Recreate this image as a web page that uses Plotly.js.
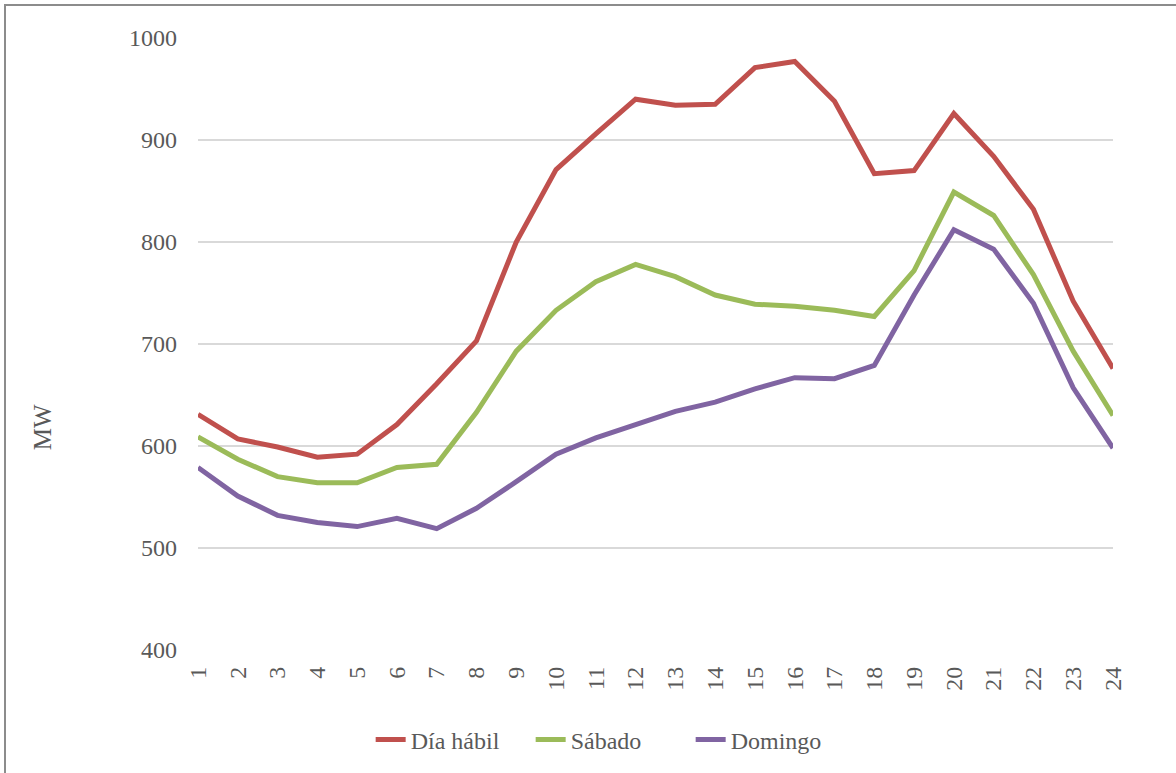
<!DOCTYPE html>
<html>
<head>
<meta charset="utf-8">
<script src="https://cdn.plot.ly/plotly-3.0.1.min.js"></script>
<style>
  html, body { margin: 0; padding: 0; background: #ffffff; }
  #wrap { position: relative; width: 1176px; height: 773px; overflow: hidden; }
  #chart { position: absolute; left: 0; top: 0; width: 1176px; height: 773px; }
  #frame { position: absolute; left: 4px; top: 4px; width: 1180px; height: 780px;
           border-top: 2px solid #8c8c8c; border-left: 2px solid #8c8c8c; pointer-events: none; }
</style>
</head>
<body>
<div id="wrap">
  <div id="chart"></div>
  <div id="frame"></div>
</div>
<script>
const hours = ["1","2","3","4","5","6","7","8","9","10","11","12","13","14","15","16","17","18","19","20","21","22","23","24"];
const diaHabil = [631, 607, 599, 589, 592, 621, 661, 703, 800, 871, 906, 940, 934, 935, 971, 977, 938, 867, 870, 926, 884, 832, 742, 676];
const sabado   = [609, 587, 570, 564, 564, 579, 582, 633, 693, 733, 761, 778, 766, 748, 739, 737, 733, 727, 772, 849, 826, 768, 693, 630];
const domingo  = [579, 551, 532, 525, 521, 529, 519, 539, 565, 592, 608, 621, 634, 643, 656, 667, 666, 679, 748, 812, 793, 740, 657, 598];
const seriesNames = ["Día hábil", "Sábado", "Domingo"];
const seriesColors = ["#C0504D", "#9BBB59", "#8064A2"];
const yTitle = "MW";

const font = "Liberation Serif";
const allSeries = [diaHabil, sabado, domingo];
const traces = allSeries.map((ys, i) => ({
  x: hours, y: ys, type: "scatter", mode: "lines", name: seriesNames[i],
  line: { color: seriesColors[i], width: 5 }
}));

const layout = {
  width: 1176, height: 773,
  margin: { l: 198, r: 63, t: 38, b: 122 },
  paper_bgcolor: "#ffffff", plot_bgcolor: "#ffffff",
  font: { family: font, color: "#595959", size: 24 },
  showlegend: true,
  legend: { orientation: "h", x: 0.451, xanchor: "center", y: -0.145, yanchor: "middle",
            font: { family: font, size: 24, color: "#595959" }, traceorder: "normal",
            entrywidth: 115, entrywidthmode: "pixels" },
  xaxis: {
    type: "category", range: [0, 23], showgrid: false, zeroline: false,
    showline: false, ticks: "", tickangle: -90, automargin: false,
    ticklabelstandoff: 11,
    tickfont: { family: font, size: 24, color: "#595959" }
  },
  yaxis: {
    range: [400, 1000], dtick: 100, tick0: 0, showgrid: true, gridcolor: "#D9D9D9", gridwidth: 1.5,
    zeroline: false, showline: false, ticks: "", automargin: false, ticklabelstandoff: 20,
    tickfont: { family: font, size: 24, color: "#595959" }
  },
  annotations: [{
    text: yTitle, xref: "paper", yref: "paper", x: -0.1705, y: 0.364,
    xanchor: "center", yanchor: "middle", textangle: -90, showarrow: false,
    font: { family: font, size: 25, color: "#595959" }
  }]
};
Plotly.newPlot("chart", traces, layout, { displayModeBar: false, staticPlot: true });
</script>
</body>
</html>
